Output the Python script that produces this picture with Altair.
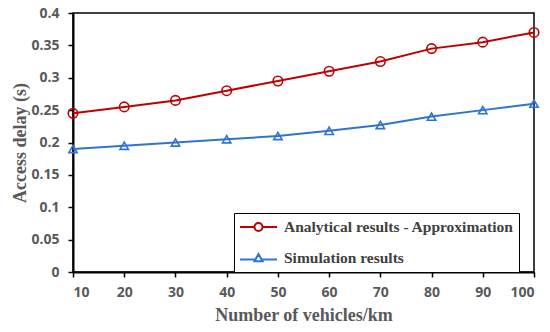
import altair as alt
import pandas as pd

vehicles = [10, 20, 30, 40, 50, 60, 70, 80, 90, 100]
analytical = [0.245, 0.255, 0.265, 0.28, 0.295, 0.31, 0.325, 0.345, 0.355, 0.37]
simulation = [0.19, 0.195, 0.2, 0.205, 0.21, 0.218, 0.227, 0.24, 0.25, 0.26]
series_names = ["Analytical results - Approximation", "Simulation results"]
colors = ["#C00000", "#2E74D0"]
y_ticks = [0, 0.05, 0.1, 0.15, 0.2, 0.25, 0.3, 0.35, 0.4]

rows = []
for v, a, s in zip(vehicles, analytical, simulation):
    rows.append({"x": v, "y": a, "series": series_names[0]})
    rows.append({"x": v, "y": s, "series": series_names[1]})
df = pd.DataFrame(rows)

# legend glyphs: a line with the marker in its middle (units of 8 px)
legend_circle = ("M-1,0H0.8125M1.8125,0H3.625"
                 "M0.8125,0A0.5,0.5 0 1,1 1.8125,0A0.5,0.5 0 1,1 0.8125,0Z")
legend_tri = "M-1,0.2H0.9M1.725,0.2H3.625M1.3125,-0.5L1.8125,0.4H0.8125Z"

x_enc = alt.X("x:Q", scale=alt.Scale(domain=[10, 100], nice=False),
              axis=alt.Axis(values=vehicles, title="Number of vehicles/km"))
y_enc = alt.Y("y:Q", scale=alt.Scale(domain=[0, 0.4], nice=False),
              axis=alt.Axis(values=y_ticks, format="~g", title="Access delay (s)"))
color_scale = alt.Scale(domain=series_names, range=colors)

legend = alt.Legend(
    title=None, orient="none", legendX=161, legendY=200,
    strokeColor="black", padding=5, fillColor="white",
    labelFont="Liberation Serif", labelFontWeight="bold",
    labelFontSize=15.5, labelColor="#404040", labelLimit=400,
    symbolSize=256, symbolStrokeWidth=2, symbolOpacity=1,
    symbolFillColor="transparent", rowPadding=13, labelOffset=27,
)

lines = alt.Chart(df).mark_line(strokeWidth=2).encode(
    x=x_enc, y=y_enc, color=alt.Color("series:N", scale=color_scale, legend=None))
points = alt.Chart(df).mark_point(strokeWidth=1.6, filled=False, opacity=1).encode(
    x=x_enc, y=y_enc,
    color=alt.Color("series:N", scale=color_scale, legend=None),
    shape=alt.Shape("series:N", scale=alt.Scale(domain=series_names, range=["circle", "triangle-up"]), legend=None),
    size=alt.Size("series:N", scale=alt.Scale(domain=series_names, range=[90, 70]), legend=None),
)
legend_layer = alt.Chart(df).mark_point(filled=False, opacity=0).encode(
    x=x_enc, y=y_enc,
    color=alt.Color("series:N", scale=color_scale, sort=series_names, legend=legend),
    shape=alt.Shape("series:N", sort=series_names,
                    scale=alt.Scale(domain=series_names, range=[legend_circle, legend_tri]),
                    legend=legend),
)

chart = alt.layer(lines, points, legend_layer).resolve_scale(
    shape="independent", size="independent"
).resolve_legend(color="independent", shape="independent").properties(
    width=461, height=259,
    autosize=alt.AutoSizeParams(type="none"),
    padding={"left": 65, "top": 5, "right": 8, "bottom": 52},
).configure_view(
    stroke="black", strokeWidth=1.5
).configure_axis(
    grid=False, domainColor="black", domainWidth=2, tickColor="black", tickWidth=1.5,
    tickSize=5, labelFont="Open Sans", labelFontWeight="bold", labelFontSize=14,
    labelColor="#595959", titleFont="Liberation Serif", titleFontWeight="bold",
    titleFontSize=18, titleColor="#595959",
).configure_axisY(labelPadding=9, titlePadding=1).configure_axisX(labelPadding=8, titlePadding=7)

chart.save("out.html", embed_options={"renderer": "svg", "actions": False})
